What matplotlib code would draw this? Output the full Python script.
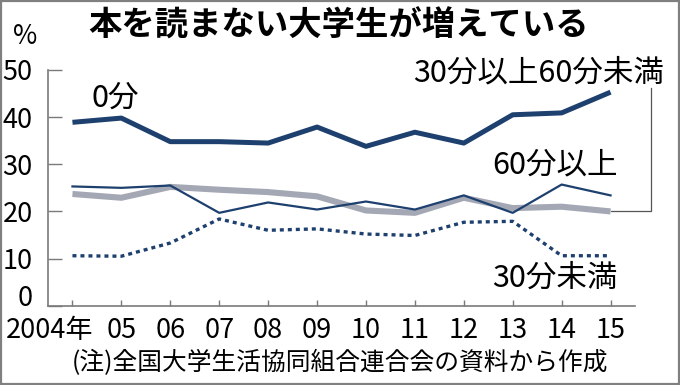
import matplotlib
matplotlib.use("Agg")
import matplotlib.pyplot as plt
import matplotlib.transforms as mtransforms
from matplotlib.patches import Rectangle


# =========================================================
# DATOS
# =========================================================

anios = [2004, 2005, 2006, 2007, 2008, 2009, 2010, 2011, 2012, 2013, 2014, 2015]
etiquetas_x = ["2004年", "05", "06", "07", "08", "09", "10", "11", "12", "13", "14", "15"]

cero_min = [38.9, 39.8, 34.8, 34.8, 34.5, 37.9, 33.8, 36.8, 34.5, 40.5, 40.9, 45.3]
entre_30_60 = [23.7, 22.9, 25.2, 24.6, 24.1, 23.2, 20.2, 19.7, 22.9, 20.7, 21.0, 20.0]
mas_60 = [25.3, 25.0, 25.5, 19.7, 21.9, 20.4, 22.1, 20.4, 23.4, 19.7, 25.7, 23.4]
menos_30 = [10.6, 10.5, 13.3, 18.4, 16.0, 16.3, 15.2, 14.9, 17.7, 17.9, 10.6, 10.6]

ticks_y = [0, 10, 20, 30, 40, 50]

titulo = "本を読まない大学生が増えている"
nota = "(注)全国大学生活協同組合連合会の資料から作成"

# =========================================================
# ESTILO
# =========================================================

NAVY = "#1e406e"
GRIS = "#a4a8b4"
EJE = "#7a7a7a"
CJK = ["Noto Sans CJK JP", "DejaVu Sans"]

plt.rcParams["font.family"] = CJK

fig = plt.figure(figsize=(6.8, 3.85), dpi=100)
ax = fig.add_axes([48 / 680, 1 - 305.7 / 385, (635 - 48) / 680, (305.7 - 70) / 385])

# =========================================================
# LINEAS
# =========================================================

ax.plot(anios, entre_30_60, color=GRIS, lw=4.4, solid_capstyle="butt", zorder=2)
ax.plot(anios, mas_60, color=NAVY, lw=1.6, zorder=3)
ax.plot(anios, menos_30, color=NAVY, lw=2.4, linestyle=(0, (1.2, 1.2)), zorder=3)
ax.plot(anios, cero_min, color=NAVY, lw=3.6, solid_capstyle="butt", zorder=4)

# linea guia de la etiqueta 30-60
ax.plot([anios[-1], 2015.82, 2015.82], [entre_30_60[-1], entre_30_60[-1], 46.2],
        color="#555555", lw=0.9, clip_on=False, zorder=1)

# =========================================================
# EJES
# =========================================================

ax.set_xlim(2003.5, 2015.5)
ax.set_ylim(0, 50)

for lado in ["top", "right"]:
    ax.spines[lado].set_visible(False)
for lado in ["left", "bottom"]:
    ax.spines[lado].set_color(EJE)
    ax.spines[lado].set_linewidth(1.2)

ax.set_yticks(ticks_y)
ax.set_yticklabels([str(v) for v in ticks_y], fontsize=19.5)
ax.tick_params(axis="y", direction="in", length=10, width=1.0, color=EJE, pad=11)
# el 0 se sube para no chocar con los años
ax.get_yticklabels()[0].set_verticalalignment("baseline")

ax.set_xticks(anios)
ax.set_xticklabels([""] + etiquetas_x[1:], fontsize=19.5)
ax.tick_params(axis="x", direction="in", length=4, width=1.0, color=EJE, pad=8)

# primera etiqueta con el año, desplazada a la derecha
desplazar = mtransforms.ScaledTranslation(21 / 100, 0, fig.dpi_scale_trans)
trans = mtransforms.blended_transform_factory(ax.transData, ax.transAxes) + desplazar
ax.text(anios[0], -0.046, etiquetas_x[0], transform=trans, ha="right", va="top",
        fontsize=19.5)

# =========================================================
# TEXTOS
# =========================================================

ax.text(2004.39, 44.1, "0分", fontsize=22, ha="left", va="center")
ax.text(2016.09, 49.4, "30分以上60分未満", fontsize=22, ha="right", va="center",
        clip_on=False)
ax.text(2012.59, 29.85, "60分以上", fontsize=22, ha="left", va="center")
ax.text(2012.57, 5.9, "30分未満", fontsize=22, ha="left", va="center")

fig.text(339 / 680, 1 - 26 / 385, titulo, fontsize=24, fontweight="bold",
         ha="center", va="center")
fig.text(25 / 680, 1 - 36 / 385, "%", fontsize=19,
         ha="center", va="center")
fig.text(340 / 680, 1 - 363 / 385, nota, fontsize=17.8, ha="center", va="center")

# marco de la figura
fig.patches.append(Rectangle((0.0015, 0.0025), 0.997, 0.995, transform=fig.transFigure,
                             fill=False, edgecolor="#808080", lw=1.6))

fig.savefig("out.png", dpi=100)
